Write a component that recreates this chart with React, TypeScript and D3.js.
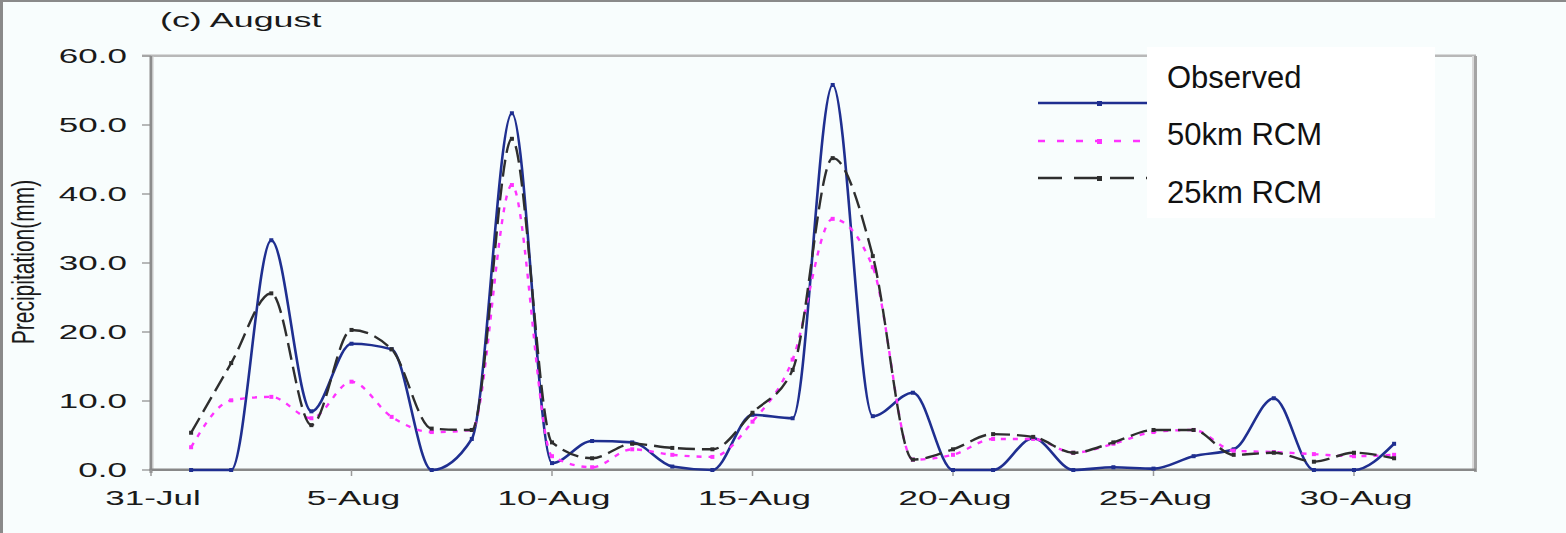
import * as d3 from "d3";

// August daily precipitation (mm), 1-Aug .. 31-Aug
const dates = [
  "1-Aug", "2-Aug", "3-Aug", "4-Aug", "5-Aug", "6-Aug", "7-Aug", "8-Aug",
  "9-Aug", "10-Aug", "11-Aug", "12-Aug", "13-Aug", "14-Aug", "15-Aug", "16-Aug",
  "17-Aug", "18-Aug", "19-Aug", "20-Aug", "21-Aug", "22-Aug", "23-Aug", "24-Aug",
  "25-Aug", "26-Aug", "27-Aug", "28-Aug", "29-Aug", "30-Aug", "31-Aug",
];
const observed = [
  0, 0, 33.3, 8.5, 18.3, 17.5, 0, 4.5, 51.7, 1.0, 4.2, 4.0, 0.5, 0, 8.0, 7.5,
  55.8, 7.8, 11.2, 0, 0, 4.6, 0, 0.4, 0.2, 2.0, 3.0, 10.4, 0, 0, 3.8,
];
const rcm50 = [
  3.3, 10.1, 10.6, 7.5, 12.8, 7.7, 5.5, 5.8, 41.3, 2.0, 0.4, 3.0, 2.2, 1.9, 7.0, 16.0,
  36.4, 29.4, 1.5, 2.2, 4.5, 4.5, 2.5, 3.8, 5.5, 5.8, 2.8, 2.6, 2.3, 2.0, 2.2,
];
const rcm25 = [
  5.4, 15.5, 25.6, 6.5, 20.3, 17.5, 6.0, 5.8, 48.0, 4.0, 1.7, 3.8, 3.2, 3.0, 8.3, 14.5,
  45.2, 31.0, 1.5, 3.0, 5.2, 4.8, 2.5, 4.0, 5.8, 5.8, 2.2, 2.5, 1.2, 2.5, 1.7,
];

// x ticks: days counted from 31-Jul
const tickDays = [0, 5, 10, 15, 20, 25, 30];
const tickLabels = ["31-Jul", "5-Aug", "10-Aug", "15-Aug", "20-Aug", "25-Aug", "30-Aug"];
const yTicks = [0, 10, 20, 30, 40, 50, 60];

const seriesNames = ["Observed", "50km RCM", "25km RCM"];

const W = 1566;
const H = 533;
const plot = { left: 151, right: 1476, top: 56, bottom: 470 };

const x = d3.scaleLinear().domain([0, 30]).range([151, 1354]);
const y = d3.scaleLinear().domain([0, 60]).range([plot.bottom, plot.top]);

const dayOf = (s: string) => parseInt(s, 10);

const FONT = "'Liberation Sans', Arial, sans-serif";
const SX = 1.75; // the original picture is stretched sideways

const series = [
  { name: seriesNames[0], values: observed, color: "#1f2f90", width: 2.6, dash: null, legendDash: null },
  { name: seriesNames[1], values: rcm50, color: "#ff33ff", width: 2.4, dash: "5,7", legendDash: "7,12" },
  { name: seriesNames[2], values: rcm25, color: "#2e2e2e", width: 2.4, dash: "17,7", legendDash: "24,12" },
];

const Stretched = ({
  x: tx, y: ty, sx = SX, size = 20, anchor = "middle", children, fill = "#1a1a1a", rotate = 0,
}: any) => (
  <g transform={`translate(${tx},${ty}) scale(${sx},1) rotate(${rotate})`}>
    <text x={0} y={0} fontFamily={FONT} fontSize={size} textAnchor={anchor} fill={fill}>
      {children}
    </text>
  </g>
);

export default function App() {
  const line = d3
    .line<number>()
    .x((_, i) => x(dayOf(dates[i])))
    .y(d => y(d))
    .curve(d3.curveMonotoneX);

  const legendY = [103, 141, 178];
  const legendTextY = [88, 145, 203];

  return (
    <svg
      width={W}
      height={H}
      style={{ position: "absolute", left: 0, top: 0, background: "#f8fdfd" }}
    >
      {/* outer frame edges */}
      <rect x={0} y={0} width={W} height={2} fill="#8a8a8a" />
      <rect x={0} y={0} width={3} height={H} fill="#8a8a8a" />

      <Stretched x={160} y={27} size={20.5} anchor="start">(c) August</Stretched>

      {/* plot frame */}
      <rect x={142} y={54.5} width={plot.right - 142} height={2.5} fill="#b8b8b8" />
      <rect x={plot.right - 4} y={56} width={2} height={plot.bottom - 56} fill="#dadada" />
      <rect x={plot.right - 2} y={56} width={3} height={plot.bottom - 56 + 2} fill="#a4a4a4" />

      {/* y axis */}
      {yTicks.map(t => (
        <g key={t}>
          <line x1={142} x2={151} y1={y(t)} y2={y(t)} stroke="#a0a0a0" strokeWidth={1.5} />
          <Stretched x={127} y={y(t) + 7} anchor="end">{t.toFixed(1)}</Stretched>
        </g>
      ))}
      <rect x={149.5} y={56} width={3} height={plot.bottom - 56 + 3} fill="#8c8c8c" />
      <rect x={152.5} y={56} width={1} height={plot.bottom - 56} fill="#c8c8c8" />

      <Stretched x={34} y={262} sx={1.5} size={21} rotate={-90}>Precipitation(mm)</Stretched>

      {/* x axis */}
      <rect x={149.5} y={468.5} width={plot.right - 149.5} height={2.5} fill="#888888" />
      {tickDays.map((d, i) => (
        <g key={d}>
          <line x1={x(d)} x2={x(d)} y1={470} y2={476} stroke="#9a9a9a" strokeWidth={1.5} />
          <Stretched x={x(d) + 2} y={505}>{tickLabels[i]}</Stretched>
        </g>
      ))}

      {/* series */}
      {series.map(s => (
        <g key={s.name}>
          <path
            d={line(s.values) ?? ""}
            fill="none"
            stroke={s.color}
            strokeWidth={s.width}
            strokeDasharray={s.dash ?? undefined}
            strokeLinejoin="round"
          />
          {s.values.map((v, i) => (
            <rect
              key={i}
              x={x(dayOf(dates[i])) - 2}
              y={y(v) - 2}
              width={4}
              height={4}
              fill={s.color}
            />
          ))}
        </g>
      ))}

      {/* legend */}
      {series.map((s, i) => (
        <g key={s.name}>
          <line
            x1={1038}
            x2={1147}
            y1={legendY[i]}
            y2={legendY[i]}
            stroke={s.color}
            strokeWidth={2.6}
            strokeDasharray={s.legendDash ?? undefined}
          />
          <rect x={1097} y={legendY[i] - 2} width={5} height={5} fill={s.color} />
        </g>
      ))}
      <rect x={1147} y={47} width={288} height={171} fill="#ffffff" />
      {series.map((s, i) => (
        <text key={s.name} x={1167} y={legendTextY[i]} fontFamily={FONT} fontSize={31} fill="#111">
          {s.name}
        </text>
      ))}
    </svg>
  );
}
